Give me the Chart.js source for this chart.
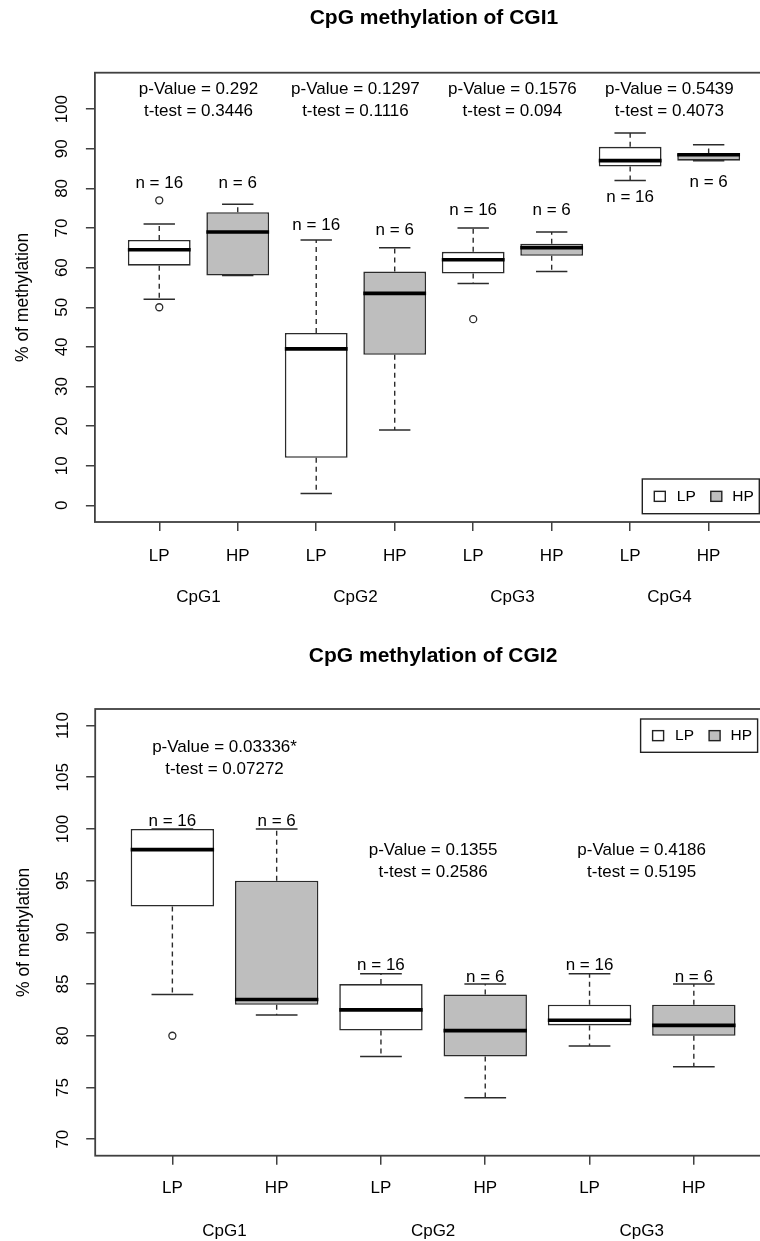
<!DOCTYPE html>
<html>
<head>
<meta charset="utf-8">
<title>CpG methylation of CGI1 / CGI2</title>
<script src="https://cdn.jsdelivr.net/npm/chart.js@4.4.1/dist/chart.umd.min.js"></script>
<style>
  html, body { margin: 0; padding: 0; background: #fff; overflow: hidden; }
  .page { width: 760px; height: 1241px; overflow: hidden; }
  canvas { display: block; }
</style>
</head>
<body>
<div class="page">
  <canvas id="cgi1Chart" width="773" height="620"></canvas>
  <canvas id="cgi2Chart" width="771" height="621"></canvas>
</div>
<script>
// --- Data ---
const groups = ['LP', 'HP'];
const groupN = [16, 6];

// each box = [lower whisker, Q1, median, Q3, upper whisker]
const cgi1Sites = ['CpG1', 'CpG2', 'CpG3', 'CpG4'];
const cgi1LP = [[52, 60.5, 64.5, 67, 71], [3, 12, 39.5, 43.5, 67], [56, 58.5, 62, 64, 70], [82, 85.5, 87, 90.5, 94]];
const cgi1HP = [[58, 58, 69, 74, 76], [19, 38, 53.5, 59, 65], [59, 63, 65, 66, 69], [87, 87, 88.5, 88.8, 91]];
const cgi1LPOutliers = [[77, 50], [], [47], []];
const cgi1HPOutliers = [[], [], [], []];
const cgi1PValue = ['0.292', '0.1297', '0.1576', '0.5439'];
const cgi1TTest = ['0.3446', '0.1116', '0.094', '0.4073'];
const cgi1YTicks = [0, 10, 20, 30, 40, 50, 60, 70, 80, 90, 100];
// where the "n = .." labels sit (% units)
const cgi1LPLabelAt = [81.4, 70.7, 74.5, 77.7];
const cgi1HPLabelAt = [81.4, 69.3, 74.5, 81.5];
const cgi1StatsAt = [[105, 99.5], [105, 99.5], [105, 99.5], [105, 99.5]];

const cgi2Sites = ['CpG1', 'CpG2', 'CpG3'];
const cgi2LP = [[84, 92.5, 98, 100, 100], [78, 80.5, 82.5, 85, 86], [79, 81, 81.5, 83, 86]];
const cgi2HP = [[82, 83, 83.5, 95, 100], [74, 78, 80.5, 84, 85], [77, 80, 81, 83, 85]];
const cgi2LPOutliers = [[80], [], []];
const cgi2HPOutliers = [[], [], []];
const cgi2PValue = ['0.03336*', '0.1355', '0.4186'];
const cgi2TTest = ['0.07272', '0.2586', '0.5195'];
const cgi2YTicks = [70, 75, 80, 85, 90, 95, 100, 105, 110];
const cgi2LPLabelAt = [100.75, 86.8, 86.8];
const cgi2HPLabelAt = [100.75, 85.7, 85.7];
const cgi2StatsAt = [[107.9, 105.8], [97.9, 95.8], [97.9, 95.8]];

// --- Look ---
const FONT = '"Liberation Sans", Arial, Helvetica, sans-serif';
const INK = '#2b2b2b';
const TEXT = '#000';
const groupFill = ['#ffffff', '#bebebe'];
Chart.defaults.font.family = FONT;

const gap = () => ({ x: null, y: null });

// box, whisker, staple, median and outlier datasets for one group
function boxDatasets(boxes, outliers, g) {
    const pos = i => 2 * i + g + 1;
    const whiskers = [], staples = [], medians = [], dots = [];
    boxes.forEach((b, i) => {
        const x = pos(i);
        whiskers.push({ x, y: b[3] }, { x, y: b[4] }, gap(), { x, y: b[1] }, { x, y: b[0] }, gap());
        staples.push({ x: x - 0.2, y: b[4] }, { x: x + 0.2, y: b[4] }, gap(),
                     { x: x - 0.2, y: b[0] }, { x: x + 0.2, y: b[0] }, gap());
        medians.push({ x: x - 0.4, y: b[2] }, { x: x + 0.4, y: b[2] }, gap());
        outliers[i].forEach(v => dots.push({ x, y: v }));
    });
    return [
        {
            type: 'bar', label: groups[g], xAxisID: 'x',
            data: boxes.map((b, i) => ({ x: pos(i), y: [b[1], b[3]] })),
            backgroundColor: groupFill[g], borderColor: INK, borderWidth: 1.6,
            borderSkipped: false, grouped: false, barPercentage: 0.8, categoryPercentage: 1, order: 2
        },
        { type: 'line', xAxisID: 'x', data: whiskers, borderColor: INK, borderWidth: 1.4, borderDash: [5, 4], pointRadius: 0, order: 4 },
        { type: 'line', xAxisID: 'x', data: staples, borderColor: INK, borderWidth: 1.5, pointRadius: 0, order: 3 },
        { type: 'line', xAxisID: 'x', data: medians, borderColor: '#000', borderWidth: 3.6, borderCapStyle: 'butt', pointRadius: 0, order: 0 },
        {
            type: 'line', xAxisID: 'x', data: dots, showLine: false, pointRadius: 3.5,
            pointBorderColor: INK, pointBackgroundColor: 'rgba(0,0,0,0)', pointBorderWidth: 1.3, order: 1
        }
    ];
}

function drawPanel(canvasId, p) {
    const datasets = [...boxDatasets(p.lp, p.lpOut, 0), ...boxDatasets(p.hp, p.hpOut, 1)];
    const boxTicks = p.sites.flatMap((_, i) => [2 * i + 1, 2 * i + 2]);
    const siteTicks = p.sites.map((_, i) => 2 * i + 1.5);

    // title, frame, p-values, n labels, legend
    const decor = {
        id: 'decor',
        afterDraw(chart) {
            const { ctx, chartArea: ca, scales: { x, y } } = chart;
            ctx.save();
            ctx.strokeStyle = '#404040';
            ctx.lineWidth = 1.8;
            ctx.strokeRect(ca.left, ca.top, ca.right - ca.left, ca.bottom - ca.top);

            ctx.fillStyle = '#000';
            ctx.textAlign = 'center';
            ctx.textBaseline = 'middle';
            ctx.font = 'bold 21px ' + FONT;
            ctx.fillText(p.title, (ca.left + ca.right) / 2, p.titleY);

            ctx.fillStyle = TEXT;
            ctx.font = '17px ' + FONT;
            p.sites.forEach((_, i) => {
                const cx = x.getPixelForValue(2 * i + 1.5);
                ctx.fillText('p-Value = ' + p.pValue[i], cx, y.getPixelForValue(p.statsAt[i][0]));
                ctx.fillText('t-test = ' + p.tTest[i], cx, y.getPixelForValue(p.statsAt[i][1]));
                ctx.fillText('n = ' + groupN[0], x.getPixelForValue(2 * i + 1), y.getPixelForValue(p.lpLabelAt[i]));
                ctx.fillText('n = ' + groupN[1], x.getPixelForValue(2 * i + 2), y.getPixelForValue(p.hpLabelAt[i]));
            });

            // legend
            const lg = p.legend(ca);
            ctx.lineWidth = 1.4;
            ctx.strokeStyle = '#222';
            ctx.strokeRect(lg.left, lg.top, 117, lg.h);
            const cy = lg.top + lg.h / 2;
            ctx.font = '15.5px ' + FONT;
            ctx.textAlign = 'left';
            [[12, 34.5], [68.5, 90]].forEach(([sq, tx], g) => {
                ctx.fillStyle = groupFill[g];
                ctx.fillRect(lg.left + sq, cy - 5, 11, 10);
                ctx.strokeRect(lg.left + sq, cy - 5, 11, 10);
                ctx.fillStyle = TEXT;
                ctx.fillText(groups[g], lg.left + tx, cy + 0.5);
            });
            ctx.restore();
        }
    };

    new Chart(document.getElementById(canvasId), {
        type: 'bar',
        data: { datasets },
        options: {
            responsive: false,
            animation: false,
            events: [],
            layout: { autoPadding: false, padding: { top: p.top, left: 0, right: 0, bottom: 0 } },
            plugins: { legend: { display: false }, tooltip: { enabled: false } },
            scales: {
                x: {
                    type: 'linear', position: 'bottom', min: p.xMin, max: p.xMax, offset: false,
                    afterBuildTicks: s => { s.ticks = boxTicks.map(v => ({ value: v })); },
                    afterFit: s => { s.height = 50; },
                    ticks: {
                        autoSkip: false, maxRotation: 0, padding: p.xPad, color: TEXT,
                        font: { size: 17 }, callback: v => groups[(v - 1) % 2]
                    },
                    grid: { offset: false, drawOnChartArea: false, drawTicks: true, tickLength: 9, color: '#404040', lineWidth: 1.5 },
                    border: { display: false }
                },
                xg: {
                    type: 'linear', position: 'bottom', min: p.xMin, max: p.xMax, offset: false,
                    afterBuildTicks: s => { s.ticks = siteTicks.map(v => ({ value: v })); },
                    afterFit: s => { s.height = p.groupAxisH; },
                    ticks: {
                        autoSkip: false, maxRotation: 0, padding: p.groupPad, color: TEXT,
                        font: { size: 17 }, callback: (v, i) => p.sites[i]
                    },
                    grid: { display: false, drawTicks: false },
                    border: { display: false }
                },
                y: {
                    type: 'linear', min: p.yMin, max: p.yMax, beginAtZero: false,
                    afterBuildTicks: s => { s.ticks = p.yTicks.map(v => ({ value: v })); },
                    afterFit: s => { s.width = p.yAxisW; },
                    ticks: {
                        autoSkip: false, minRotation: 90, maxRotation: 90, crossAlign: 'center',
                        padding: p.yPad, color: TEXT, font: { size: 17 }
                    },
                    grid: { drawOnChartArea: false, drawTicks: true, tickLength: 9, color: '#404040', lineWidth: 1.5 },
                    border: { display: false },
                    title: {
                        display: true, text: '% of methylation', color: TEXT,
                        font: { size: 17.5 }, padding: { top: p.yTitlePad, bottom: 0 }
                    }
                }
            }
        },
        plugins: [decor]
    });
}

drawPanel('cgi1Chart', {
    title: 'CpG methylation of CGI1', titleY: 18.7, top: 72.7,
    sites: cgi1Sites, lp: cgi1LP, hp: cgi1HP, lpOut: cgi1LPOutliers, hpOut: cgi1HPOutliers,
    pValue: cgi1PValue, tTest: cgi1TTest, statsAt: cgi1StatsAt,
    lpLabelAt: cgi1LPLabelAt, hpLabelAt: cgi1HPLabelAt,
    xMin: 0.18, xMax: 8.82, yMin: -4.2, yMax: 109.2, yTicks: cgi1YTicks,
    yAxisW: 94.9, yPad: 9, yTitlePad: 12.2, xPad: 15, groupAxisH: 48, groupPad: 15.5,
    legend: ca => ({ left: ca.right - 130.7, top: ca.bottom - 43, h: 34.7 })
});

drawPanel('cgi2Chart', {
    title: 'CpG methylation of CGI2', titleY: 36.7, top: 89,
    sites: cgi2Sites, lp: cgi2LP, hp: cgi2HP, lpOut: cgi2LPOutliers, hpOut: cgi2HPOutliers,
    pValue: cgi2PValue, tTest: cgi2TTest, statsAt: cgi2StatsAt,
    lpLabelAt: cgi2LPLabelAt, hpLabelAt: cgi2HPLabelAt,
    xMin: 0.26, xMax: 6.74, yMin: 68.4, yMax: 111.6, yTicks: cgi2YTicks,
    yAxisW: 95.2, yPad: 8.3, yTitlePad: 13.5, xPad: 13.3, groupAxisH: 35.3, groupPad: 15.1,
    legend: ca => ({ left: ca.right - 130.4, top: ca.top + 10, h: 33.3 })
});
</script>
</body>
</html>
